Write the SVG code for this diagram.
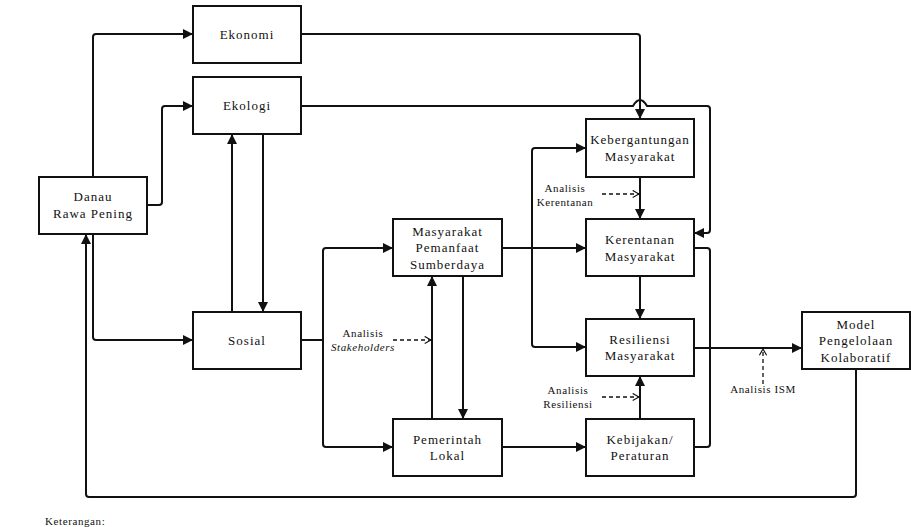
<svg xmlns="http://www.w3.org/2000/svg" width="911" height="527" viewBox="0 0 911 527">
<defs>
<style>
.box{fill:#fff;stroke:#111;stroke-width:2}
.t{font-family:'Liberation Serif','Times New Roman','DejaVu Serif',serif;font-size:13px;letter-spacing:1px;fill:#111;text-anchor:middle}
.s{font-family:'Liberation Serif','Times New Roman','DejaVu Serif',serif;font-size:11px;letter-spacing:0.6px;fill:#111;text-anchor:middle}
.k{font-family:'Liberation Serif','Times New Roman','DejaVu Serif',serif;font-size:11px;letter-spacing:0.6px;fill:#111;text-anchor:start}
.ln{fill:none;stroke:#111;stroke-width:2;stroke-linejoin:round}
.ar{fill:none;stroke:#111;stroke-width:2;stroke-linejoin:round;marker-end:url(#ah)}
.da{fill:none;stroke:#111;stroke-width:1.3;stroke-dasharray:4,3;marker-end:url(#oh)}
</style>
<marker id="ah" viewBox="0 0 10 10" refX="10" refY="5" markerWidth="10" markerHeight="10" markerUnits="userSpaceOnUse" orient="auto">
<path d="M0,0 L10,5 L0,10 Z" fill="#111"/>
</marker>
<marker id="oh" viewBox="0 0 10 10" refX="9" refY="5" markerWidth="9" markerHeight="9" markerUnits="userSpaceOnUse" orient="auto">
<path d="M2,1 L9,5 L2,9" fill="none" stroke="#111" stroke-width="1.3"/>
</marker>
</defs>
<rect width="911" height="527" fill="#fff"/>
<g id="connectors">
<path class="ar" d="M93,177 V37 Q93,34 96,34 H193"/>
<path class="ar" d="M147,205 H159 Q162,205 162,202 V109 Q162,106 165,106 H193"/>
<path class="ar" d="M93,234 V337 Q93,340 96,340 H193"/>
<path class="ar" d="M232,312 V134"/>
<path class="ar" d="M263,134 V312"/>
<path class="ar" d="M856,369 V494 Q856,497 853,497 H89 Q86,497 86,494 V234"/>
<path class="ar" d="M301,34 H637 Q640,34 640,37 V119"/>
<path class="ar" d="M301,106 H633 Q640,94 647,106 H707 Q710,106 710,109 V230 Q710,233 707,233 H694"/>
<path class="ln" d="M301,340 H323"/>
<path class="ar" d="M323,340 V251 Q323,248 326,248 H393"/>
<path class="ar" d="M323,340 V444 Q323,447 326,447 H393"/>
<path class="ar" d="M432,419 V276"/>
<path class="ar" d="M463,276 V419"/>
<path class="ar" d="M502,248 H586"/>
<path class="ar" d="M532,248 V151 Q532,148 535,148 H586"/>
<path class="ar" d="M532,248 V344 Q532,347 535,347 H586"/>
<path class="ar" d="M502,447 H586"/>
<path class="ar" d="M640,177 V219"/>
<path class="ar" d="M640,276 V319"/>
<path class="ar" d="M640,419 V376"/>
<path class="ln" d="M694,248 H707 Q710,248 710,251 V444 Q710,447 707,447 H694"/>
<path class="ar" d="M694,348 H802"/>
<path class="da" d="M393,340 H431"/>
<path class="da" d="M602,194 H639"/>
<path class="da" d="M602,397 H639"/>
<path class="da" d="M763,384 V349"/>
</g>
<g id="ekonomi"><rect class="box" x="193" y="6" width="108" height="57"/><text class="t" x="247" y="39">Ekonomi</text></g>
<g id="ekologi"><rect class="box" x="193" y="77" width="108" height="57"/><text class="t" x="247" y="110">Ekologi</text></g>
<g id="danau"><rect class="box" x="39" y="177" width="108" height="57"/><text class="t" x="93" y="201">Danau</text><text class="t" x="93" y="217.5">Rawa Pening</text></g>
<g id="sosial"><rect class="box" x="193" y="312" width="108" height="57"/><text class="t" x="247" y="345">Sosial</text></g>
<g id="masyarakat"><rect class="box" x="393" y="219" width="109" height="57"/><text class="t" x="447.5" y="235.5">Masyarakat</text><text class="t" x="447.5" y="252">Pemanfaat</text><text class="t" x="447.5" y="268.5">Sumberdaya</text></g>
<g id="pemerintah"><rect class="box" x="393" y="419" width="109" height="57"/><text class="t" x="447.5" y="443.5">Pemerintah</text><text class="t" x="447.5" y="460">Lokal</text></g>
<g id="kebergantungan"><rect class="box" x="586" y="119" width="108" height="58"/><text class="t" x="640" y="144">Kebergantungan</text><text class="t" x="640" y="160.5">Masyarakat</text></g>
<g id="kerentanan"><rect class="box" x="586" y="219" width="108" height="57"/><text class="t" x="640" y="244">Kerentanan</text><text class="t" x="640" y="260.5">Masyarakat</text></g>
<g id="resiliensi"><rect class="box" x="586" y="319" width="108" height="57"/><text class="t" x="640" y="343.5">Resiliensi</text><text class="t" x="640" y="360">Masyarakat</text></g>
<g id="kebijakan"><rect class="box" x="586" y="419" width="108" height="57"/><text class="t" x="640" y="443.5">Kebijakan/</text><text class="t" x="640" y="460">Peraturan</text></g>
<g id="model"><rect class="box" x="802" y="312" width="108" height="57"/><text class="t" x="856" y="328.5">Model</text><text class="t" x="856" y="345">Pengelolaan</text><text class="t" x="856" y="361.5">Kolaboratif</text></g>
<g id="labels">
<text class="s" x="363" y="337">Analisis</text>
<text class="s" x="363" y="351" font-style="italic">Stakeholders</text>
<text class="s" x="565" y="192">Analisis</text>
<text class="s" x="565" y="206">Kerentanan</text>
<text class="s" x="568" y="394">Analisis</text>
<text class="s" x="568" y="408">Resiliensi</text>
<text class="s" x="763" y="393">Analisis ISM</text>
<text class="k" x="45" y="525">Keterangan:</text>
</g>
</svg>
